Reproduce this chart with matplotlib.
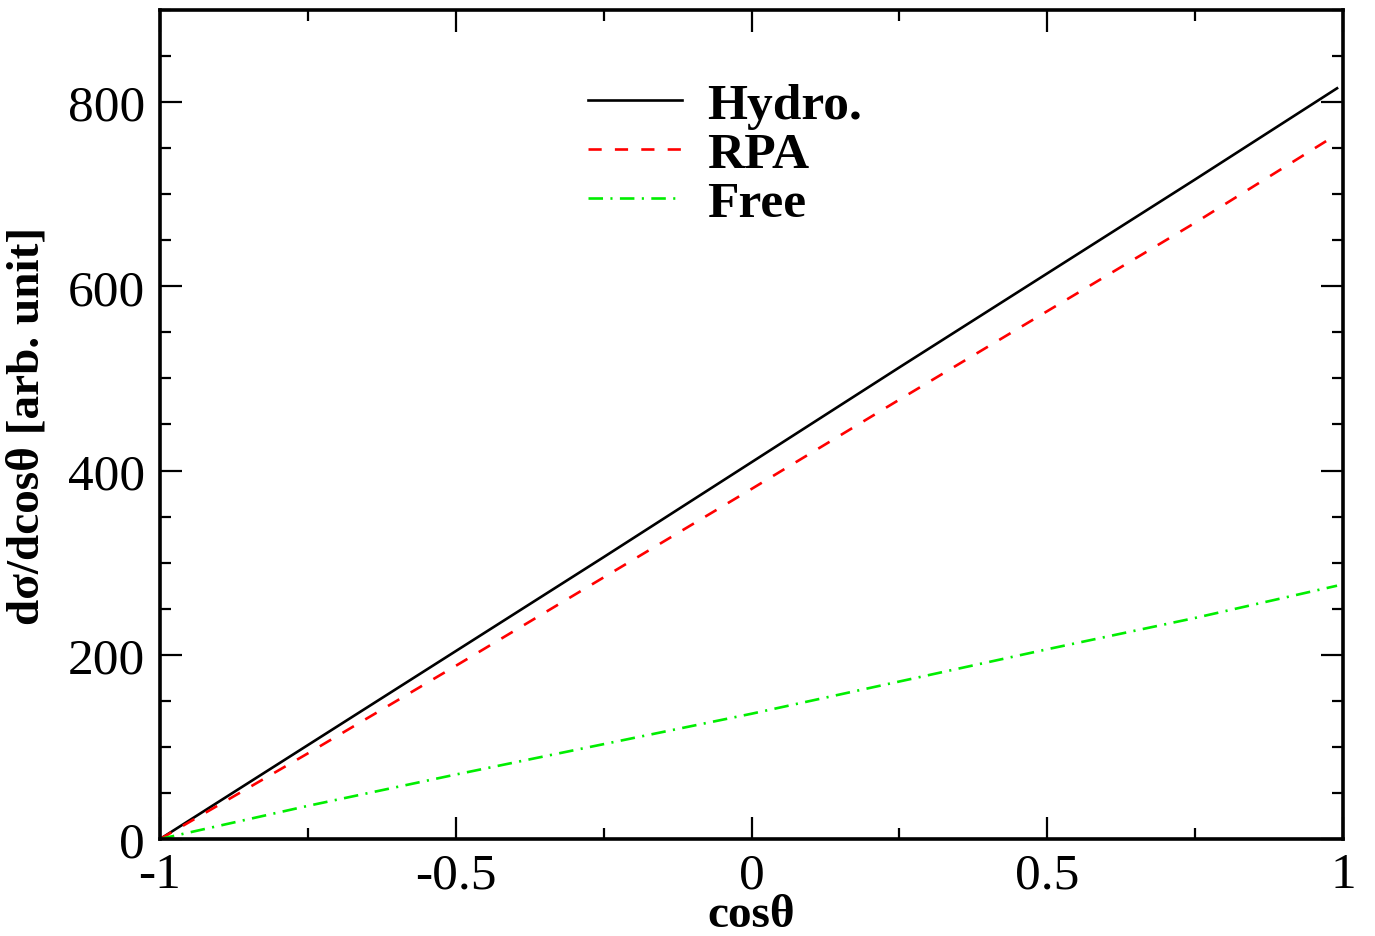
import numpy as np
import matplotlib
matplotlib.use("Agg")
import matplotlib.pyplot as plt
from matplotlib.ticker import MultipleLocator, FuncFormatter

plt.rcParams['font.family'] = ['Liberation Serif', 'DejaVu Serif']
plt.rcParams['axes.unicode_minus'] = False

cos_theta = [-1.0, -0.75, -0.5, -0.25, 0.0, 0.25, 0.5, 0.75, 0.99]
hydro = [0, 102, 204, 306, 409, 512, 614, 716, 815]
rpa = [0, 93, 188, 284, 380, 477, 573, 669, 765]
free = [0, 36, 70, 103, 136, 171, 206, 240, 275]

fig = plt.figure(figsize=(13.75, 9.37), dpi=100)
ax = fig.add_axes([0.1164, 0.1035, 0.8603, 0.8848])

ax.plot(cos_theta, hydro, color="black", lw=1.9, label="Hydro.")
ax.plot(cos_theta, rpa, color="red", lw=1.9, dashes=(5, 5), label="RPA")
ax.plot(cos_theta, free, color="#00ee00", lw=1.9, dashes=(5.5, 2.8, 0.8, 2.8), label="Free")

ax.set_xlim(-1, 1)
ax.set_ylim(0, 900)
ax.xaxis.set_major_locator(MultipleLocator(0.5))
ax.xaxis.set_minor_locator(MultipleLocator(0.25))
ax.yaxis.set_major_locator(MultipleLocator(200))
ax.yaxis.set_minor_locator(MultipleLocator(50))

def fmt(v, pos):
    return f"{v:g}"
ax.xaxis.set_major_formatter(FuncFormatter(fmt))

ax.tick_params(which="both", direction="in", top=True, right=True, width=1.6)
ax.tick_params(which="major", length=16, labelsize=37)
ax.tick_params(which="minor", length=8)
ax.tick_params(axis="x", which="major", pad=9)
ax.tick_params(axis="y", which="major", pad=11)
for s in ax.spines.values():
    s.set_linewidth(2.6)

ax.set_xlabel("cosθ", fontsize=34, fontweight="bold", labelpad=-3)
ax.set_ylabel("dσ/dcosθ [arb. unit]", fontsize=34, fontweight="bold", labelpad=14)

ax.legend(loc="upper left", bbox_to_anchor=(0.3445, 0.938), frameon=False,
          prop={"size": 37, "weight": "bold"}, handlelength=1.83,
          handletextpad=0.49, labelspacing=0.04, borderaxespad=0)

fig.savefig("out.png", dpi=100)
